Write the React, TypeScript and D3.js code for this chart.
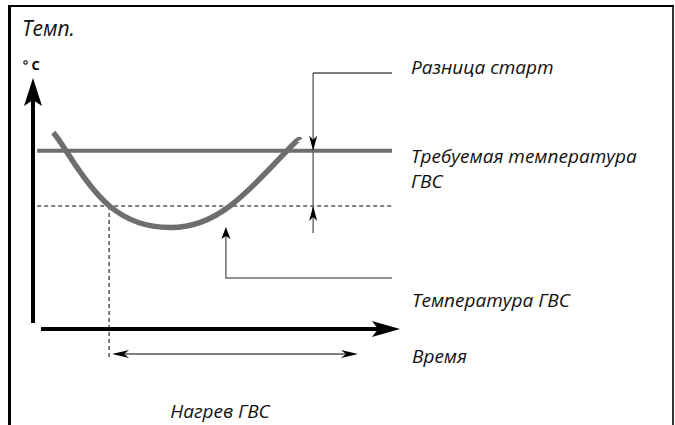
import React from "react";
import * as d3 from "d3";

// ---- data (time in arbitrary units 0-100, temperature in arbitrary units 0-100)
const curveTime = [5.0, 8.5, 20.4, 37.0, 53.4, 69.0, 72.6];
const curveTemp = [78.2, 71.0, 49.0, 40.4, 49.0, 71.0, 75.3];
const setpointTemp = 71;
const startTemp = 49;
const lineStartTime = 0.6;
const lineEndTime = 97.8;
const heatStartTime = 20.3;
const heatEndTime = 88.5;
const diffMarkerTime = 76.2;
const pointerTime = 52.3;
const pointerTipTemp = 40.6;
const pointerElbowTemp = 20.3;

const labels = {
  yTitle: "Темп.",
  yUnit: "C",
  diff: "Разница старт",
  setpoint1: "Требуемая температура",
  setpoint2: "ГВС",
  actual: "Температура ГВС",
  time: "Время",
  heating: "Нагрев ГВС",
};

const W = 675;
const H = 425;

const x = d3.scaleLinear().domain([0, 100]).range([35, 400]);
const y = d3.scaleLinear().domain([0, 100]).range([329, 78]);

// arrowhead with concave back; dir = angle in radians of pointing direction
function arrowHead(tx: number, ty: number, dir: number, len: number, hw: number, notch: number) {
  const c = Math.cos(dir), s = Math.sin(dir);
  const pt = (a: number, b: number) => [tx - a * c - b * -s, ty - a * s - b * c];
  const p1 = pt(len, hw);
  const p2 = pt(len - notch, 0);
  const p3 = pt(len, -hw);
  return `M${tx},${ty}L${p1[0]},${p1[1]}L${p2[0]},${p2[1]}L${p3[0]},${p3[1]}Z`;
}

export default function App() {
  const curve = d3
    .line<number>()
    .x((_, i) => x(curveTime[i]))
    .y((d) => y(d))
    .curve(d3.curveNatural)(curveTemp) as string;

  const font = "'Open Sans', 'Noto Sans', sans-serif";
  const tStyle: React.CSSProperties = { fontFamily: font, fontStyle: "italic", fontSize: 19, fill: "#111" };
  const gray = "#6e6e6e";

  const xAxisY = 329;
  const yAxisX = 33;
  const rightEdge = x(lineEndTime);
  const diffX = x(diffMarkerTime);
  const ptrX = x(pointerTime);
  const heatY = 354;

  return (
    <svg width={W} height={H} style={{ position: "absolute", left: 0, top: 0, background: "#fff" }}>
      {/* frame */}
      <line x1={9.5} y1={5} x2={9.5} y2={H} stroke="#000" strokeWidth={3} />
      <line x1={8} y1={6} x2={674} y2={6} stroke="#000" strokeWidth={2} />
      <line x1={673} y1={5} x2={673} y2={H} stroke="#000" strokeWidth={1.6} />

      {/* y axis */}
      <line x1={yAxisX} y1={323} x2={yAxisX} y2={100} stroke="#000" strokeWidth={4} />
      <path d={arrowHead(yAxisX, 78, -Math.PI / 2, 28, 9, 6)} fill="#000" />
      {/* x axis */}
      <line x1={41} y1={xAxisY} x2={380} y2={xAxisY} stroke="#000" strokeWidth={4} />
      <path d={arrowHead(400, xAxisY, 0, 28, 8, 6)} fill="#000" />

      {/* setpoint line */}
      <line x1={x(lineStartTime)} y1={y(setpointTemp)} x2={rightEdge} y2={y(setpointTemp)} stroke={gray} strokeWidth={4} />
      {/* start dashed line */}
      <line x1={x(lineStartTime)} y1={y(startTemp)} x2={rightEdge} y2={y(startTemp)} stroke="#000" strokeWidth={1} strokeDasharray="4,3" />
      {/* heating start vertical dashed */}
      <line x1={x(heatStartTime)} y1={y(startTemp)} x2={x(heatStartTime)} y2={360} stroke="#000" strokeWidth={1} strokeDasharray="4,3" />

      {/* curve */}
      <path d={curve} fill="none" stroke={gray} strokeWidth={5.5} />

      {/* difference marker */}
      <line x1={diffX} y1={73} x2={diffX} y2={233} stroke={gray} strokeWidth={1.5} />
      <line x1={diffX} y1={73} x2={rightEdge} y2={73} stroke="#000" strokeWidth={1} />
      <path d={arrowHead(diffX, y(setpointTemp), Math.PI / 2, 15, 4, 4)} fill="#000" />
      <path d={arrowHead(diffX, y(startTemp), -Math.PI / 2, 15, 4, 4)} fill="#000" />

      {/* actual temp pointer */}
      <path
        d={`M${rightEdge},${y(pointerElbowTemp)}H${ptrX}V${y(pointerTipTemp) + 8}`}
        fill="none"
        stroke={gray}
        strokeWidth={1.5}
      />
      <path d={arrowHead(ptrX, y(pointerTipTemp), -Math.PI / 2, 12, 4.5, 3)} fill="#000" />

      {/* heating period double arrow */}
      <line x1={x(heatStartTime) + 6} y1={heatY} x2={x(heatEndTime) - 6} y2={heatY} stroke="#000" strokeWidth={1} />
      <path d={arrowHead(x(heatStartTime) + 3, heatY, Math.PI, 17, 4, 5)} fill="#000" />
      <path d={arrowHead(x(heatEndTime), heatY, 0, 17, 4, 5)} fill="#000" />

      {/* texts */}
      <text x={22} y={36} style={{ ...tStyle, fontSize: 21 }}>{labels.yTitle}</text>
      <circle cx={25.5} cy={62.5} r={1.7} fill="none" stroke="#000" strokeWidth={1.1} />
      <text x={31.5} y={70} style={{ fontFamily: font, fontWeight: 700, fontSize: 13, fill: "#000" }}>{labels.yUnit}</text>
      <text x={411} y={74} style={tStyle}>{labels.diff}</text>
      <text x={411} y={163} style={tStyle}>{labels.setpoint1}</text>
      <text x={411} y={188} style={tStyle}>{labels.setpoint2}</text>
      <text x={412} y={307} style={tStyle}>{labels.actual}</text>
      <text x={412} y={363} style={tStyle}>{labels.time}</text>
      <text x={220} y={418} textAnchor="middle" style={tStyle}>{labels.heating}</text>
    </svg>
  );
}
